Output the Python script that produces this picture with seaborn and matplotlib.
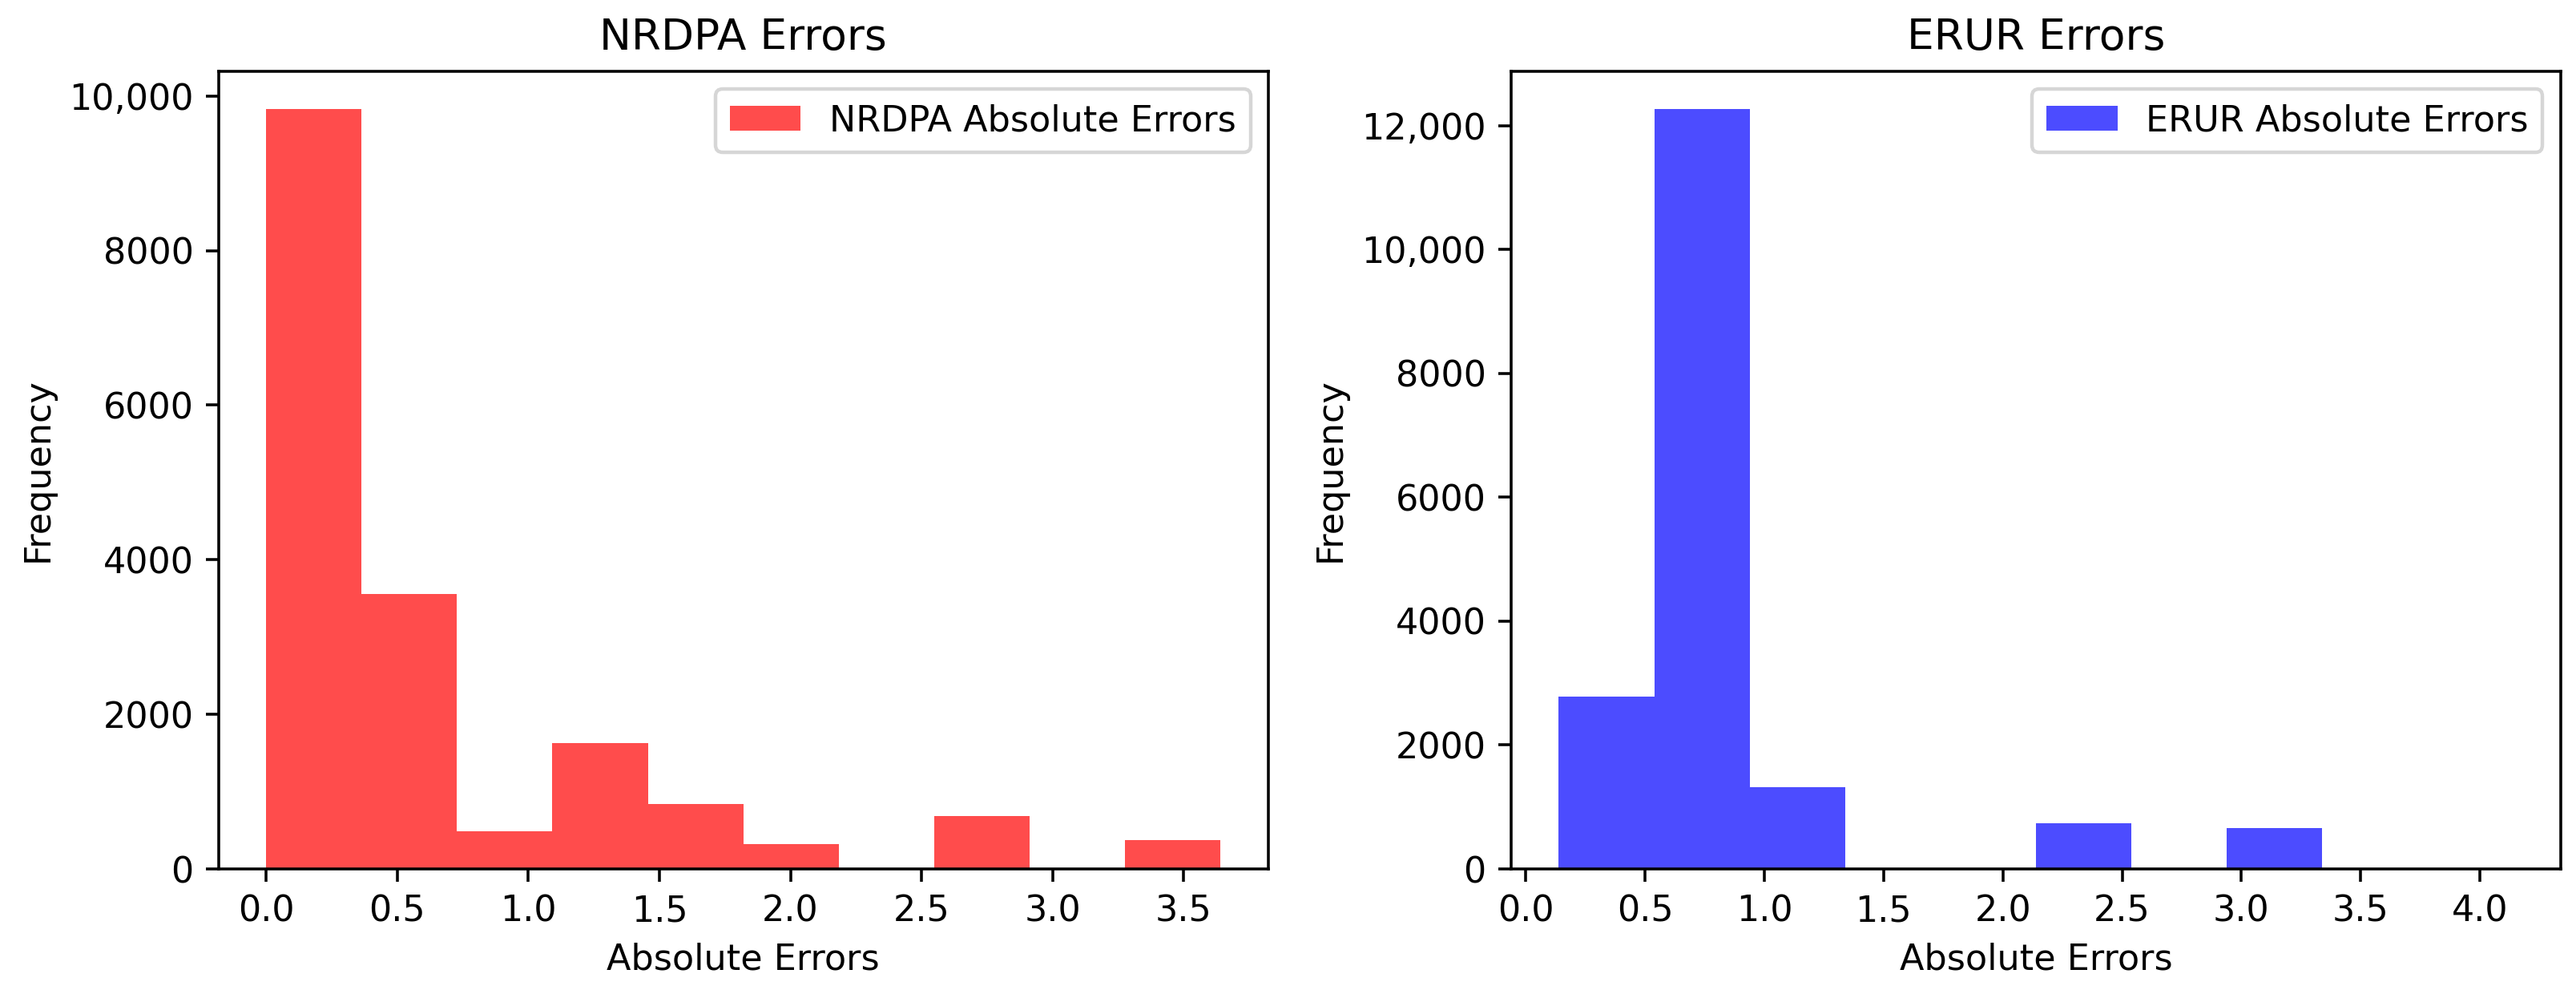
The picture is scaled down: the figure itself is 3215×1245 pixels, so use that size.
import matplotlib
matplotlib.use("Agg")
import matplotlib.pyplot as plt
from matplotlib.ticker import FuncFormatter
import numpy as np
import pandas as pd
import seaborn as sns

# Histogram counts (10 bins each)
nrdpa_counts = [9828, 3556, 489, 1626, 839, 324, 0, 683, 0, 370]
nrdpa_range = [0.0, 3.64]
erur_counts = [2780, 12264, 1320, 0, 0, 739, 0, 657, 0, 3]
erur_range = [0.138, 4.138]
n_bins = 10

titles = ["NRDPA Errors", "ERUR Errors"]
labels = ["NRDPA Absolute Errors", "ERUR Absolute Errors"]
colors = ["red", "blue"]

plt.rcParams["font.family"] = ["DejaVu Sans"]

DPI = 320
fig = plt.figure(figsize=(3215 / DPI, 1245 / DPI), dpi=DPI)
ax1 = fig.add_axes([0.0848, 0.1293, 0.4075, 0.7992])
ax2 = fig.add_axes([0.5866, 0.1293, 0.4074, 0.7992])

fmt = FuncFormatter(lambda v, p: f"{v:,.0f}" if abs(v) >= 10000 else f"{v:.0f}")

for ax, counts, rng, title, label, color in zip(
    [ax1, ax2], [nrdpa_counts, erur_counts], [nrdpa_range, erur_range],
    titles, labels, colors):
    edges = np.linspace(rng[0], rng[1], n_bins + 1)
    centers = (edges[:-1] + edges[1:]) / 2
    df = pd.DataFrame({"err": centers, "w": counts})
    sns.histplot(data=df, x="err", weights="w", bins=n_bins,
                 binrange=(rng[0], rng[1]), color=color,
                 alpha=0.7, linewidth=0, label=label, ax=ax)
    ax.set_title(title)
    ax.set_xlabel("Absolute Errors")
    ax.set_ylabel("Frequency")
    ax.yaxis.set_major_formatter(fmt)
    ax.legend(loc="upper right")

fig.savefig("out.png", dpi=DPI)
